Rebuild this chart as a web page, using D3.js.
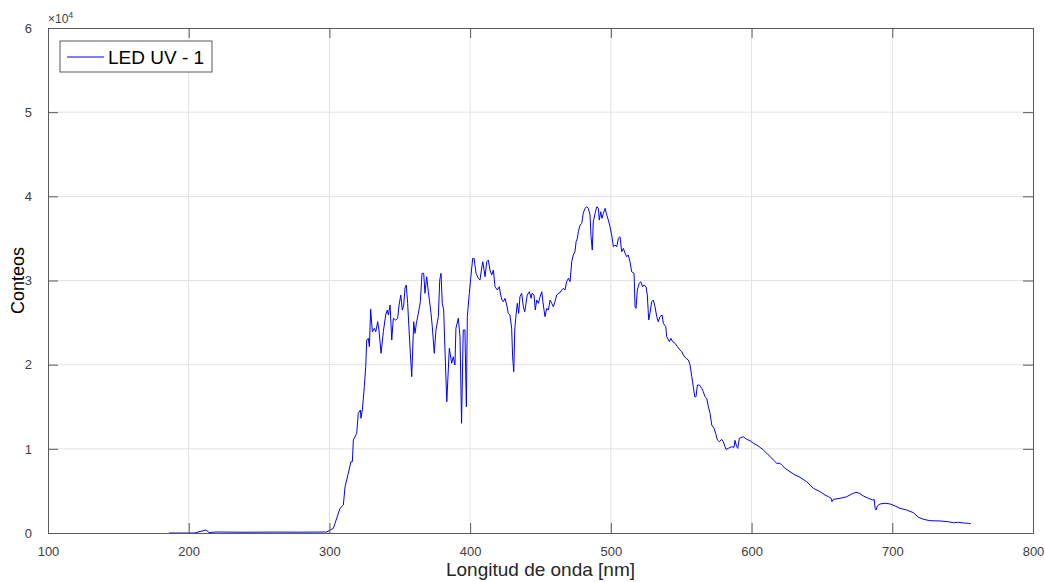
<!DOCTYPE html>
<html>
<head>
<meta charset="utf-8">
<script src="https://cdn.jsdelivr.net/npm/d3@7"></script>
<style>
  body { margin: 0; background: #fff; }
  svg text { font-family: "Liberation Sans", Arial, sans-serif; }
</style>
</head>
<body>
<div id="chart"></div>
<script>
// wavelength [nm] and counts
const wavelength = [
  186, 200, 204, 212.3, 214.4, 220, 240, 260, 280, 298,
  299.7, 302.8, 304.0, 307.5, 309.9, 311.1, 313.4, 315.3, 316.3, 317.0,
  319.4, 320.5, 322.0, 322.4, 323.4, 324.8, 325.8, 326.5, 327.6, 328.4,
  329.3, 330.5, 331.9, 332.9, 334.3, 335.2, 336.7, 338.3, 340.0, 341.1,
  341.9, 343.1, 344.3, 345.4, 347.1, 348.5, 349.5, 350.7, 351.8, 352.8,
  353.7, 354.6, 355.6, 356.6, 357.5, 358.5, 359.9, 360.8, 361.8, 363.2,
  364.6, 365.8, 367.0, 367.9, 369.1, 370.3, 372.2, 373.1, 374.5, 375.7,
  377.4, 378.4, 379.3, 380.2, 381.2, 382.1, 383.4, 385.2, 386.9, 388.0,
  389.2, 389.9, 391.6, 392.8, 393.9, 395.1, 396.3, 397.3, 398.0, 399.4,
  400.4, 401.8, 402.8, 404.2, 405.8, 407.0, 408.0, 409.0, 409.9, 410.6,
  411.8, 412.9, 414.1, 415.3, 416.5, 417.7, 419.3, 420.7, 421.7, 422.6,
  423.6, 424.8, 426.0, 427.1, 428.3, 429.5, 430.2, 431.0, 431.7, 432.6,
  433.5, 434.5, 435.4, 436.6, 437.8, 438.8, 439.7, 440.6, 442.1, 443.3,
  444.0, 445.4, 446.3, 447.3, 448.5, 449.7, 450.9, 452.0, 453.2, 454.4,
  455.6, 456.8, 458.0, 459.1, 460.3, 461.5, 462.7, 463.9, 465.1, 466.2,
  467.4, 468.6, 469.8, 471.0, 472.2, 473.3, 474.5, 475.3, 476.2, 476.9,
  478.1, 479.3, 480.4, 481.6, 482.9, 484.0, 485.2, 485.9, 486.8, 487.5,
  488.8, 490.0, 491.1, 491.8, 492.8, 493.7, 494.7, 495.9, 497.1, 498.2,
  499.4, 500.6, 501.8, 503.0, 504.2, 505.3, 506.5, 507.7, 508.9, 510.1,
  511.3, 512.4, 513.6, 514.8, 516.5, 517.2, 517.9, 518.8, 520.2, 521.2,
  522.6, 523.6, 525.0, 525.9, 526.9, 527.8, 529.0, 530.2, 531.4, 532.6,
  533.7, 534.9, 536.4, 537.3, 539.0, 539.7, 541.6, 542.6, 544.0, 545.6,
  547.3, 549.2, 550.4, 551.5, 553.4, 555.1, 556.3, 557.5, 558.6, 559.6,
  560.5, 561.5, 562.9, 564.6, 565.7, 566.9, 568.1, 569.3, 570.5, 571.7,
  573.3, 574.5, 575.7, 577.1, 578.8, 579.9, 581.8, 583.5, 585.9, 587.5,
  588.2, 589.4, 590.2, 591.3, 594.1, 596.5, 598.9, 601.3, 603.7, 606.0,
  608.4, 610.8, 613.1, 615.5, 617.9, 620.2, 621.4, 623.8, 627.3, 630.9,
  634.4, 639.2, 643.9, 648.7, 652.2, 654.6, 656.5, 657.2, 658.1, 662.9,
  667.6, 671.2, 674.2, 676.6, 679.4, 683.0, 686.1, 687.1, 687.8, 688.5,
  689.4, 691.3, 694.9, 698.4, 702.0, 705.5, 710.3, 715.0, 718.5, 722.1,
  726.8, 733.9, 739.8, 743.4, 747.0, 750.5, 754.1, 755.8
];
const counts = [
  0, 0, 0, 360, 60, 120, 90, 110, 100, 120,
  270, 560, 1150, 2930, 3330, 5500, 7090, 8470, 8470, 11050,
  11840, 14220, 14610, 13630, 14610, 17380, 19760, 22930, 23130, 22130,
  26580, 23910, 24320, 23910, 25100, 24120, 21350, 23910, 25900, 26490,
  25900, 27090, 22930, 25510, 25300, 25510, 27090, 28270, 26490, 27090,
  29070, 29460, 27290, 24120, 21350, 18570, 25100, 23720, 24910, 26100,
  27480, 30850, 30850, 28480, 30450, 28670, 26100, 24510, 21350, 24120,
  25700, 30060, 30850, 27290, 26490, 21740, 15600, 21940, 20160, 20940,
  19960, 24320, 25510, 23320, 13030, 24120, 24120, 15000, 25700, 28480,
  30260, 32630, 32630, 30850, 30260, 30060, 31240, 32230, 31240, 30450,
  32230, 32430, 31240, 30650, 31240, 29260, 28870, 29260, 28270, 27680,
  27480, 27880, 27090, 26100, 25900, 24320, 20940, 19160, 24120, 25900,
  27290, 26100, 28070, 28480, 26880, 26290, 27290, 28270, 28670, 27880,
  28480, 28270, 26490, 27680, 27290, 28070, 28670, 27090, 25700, 26690,
  26490, 27680, 27290, 26880, 27480, 28270, 28480, 28550, 28870, 29070,
  28870, 29860, 30260, 29860, 32230, 33030, 33420, 34610, 35010, 35790,
  36590, 36790, 37980, 38570, 38760, 38570, 37780, 35200, 33620, 36950,
  37980, 38760, 38570, 37180, 38170, 37390, 37980, 38570, 37780, 37180,
  36390, 35400, 34010, 34210, 34010, 35010, 35200, 33420, 33820, 33230,
  32820, 33030, 32230, 31040, 30850, 26880, 26690, 28870, 29660, 29860,
  29260, 29460, 29260, 28270, 25300, 26100, 27480, 27680, 26880, 25700,
  25100, 25700, 25900, 24910, 24510, 23320, 22730, 23130, 22730, 22540,
  22130, 21740, 21540, 21150, 20750, 20550, 19960, 18570, 17380, 16190,
  16190, 17580, 17580, 17190, 16790, 16190, 16000, 15000, 14220, 12830,
  12440, 11840, 11050, 10850, 11130, 10850, 9940, 10060, 10250, 10180,
  11010, 10250, 10060, 11250, 11440, 11130, 10970, 10660, 10450, 10180,
  9860, 9470, 9110, 8670, 8280, 8280, 8080, 7690, 7280, 6890,
  6620, 6090, 5310, 4910, 4510, 4310, 4120, 3720, 4000, 4120,
  4310, 4630, 4840, 4720, 4400, 4120, 3920, 4000, 2930, 2730,
  3210, 3450, 3530, 3450, 3210, 2930, 2730, 2410, 1870, 1630,
  1460, 1430, 1340, 1220, 1270, 1190, 1150, 1110
];
const xTicks = [100, 200, 300, 400, 500, 600, 700, 800];
const yTicks = [0, 1, 2, 3, 4, 5, 6];   // in units of 10^4
const seriesName = "LED UV - 1";

const width = 1045, height = 582;
const margin = { top: 28, right: 12, bottom: 49, left: 48 };
const plotW = width - margin.left - margin.right,
      plotH = height - margin.top - margin.bottom;

const axisColor = "#5a5a5a", textColor = "#404040", gridColor = "#e3e3e3";

let xScale = d3.scaleLinear().domain([100, 800]).range([0, plotW]);
let yScale = d3.scaleLinear().domain([0, 6]).range([plotH, 0]);

let svg = d3.select("#chart").append("svg")
  .attr("width", width)
  .attr("height", height);

let main = svg.append("g")
  .attr("transform", "translate(" + margin.left + "," + margin.top + ")");

// grid lines
main.append("g").selectAll("line.gx")
  .data(xTicks.slice(1, -1)).enter().append("line")
  .attr("x1", d => xScale(d)).attr("x2", d => xScale(d))
  .attr("y1", 0).attr("y2", plotH)
  .attr("stroke", gridColor).attr("stroke-width", 1);
main.append("g").selectAll("line.gy")
  .data(yTicks.slice(1, -1)).enter().append("line")
  .attr("x1", 0).attr("x2", plotW)
  .attr("y1", d => yScale(d)).attr("y2", d => yScale(d))
  .attr("stroke", gridColor).attr("stroke-width", 1);

// the spectrum
let line = d3.line()
  .x((d, i) => xScale(wavelength[i]))
  .y(d => yScale(d / 1e4));

main.append("path")
  .datum(counts)
  .attr("d", line)
  .attr("fill", "none")
  .attr("stroke", "#0000ff")
  .attr("stroke-width", 1);

// axes, ticks point inward like matlab, on all four sides
let tickLen = 10;
let xBottom = d3.axisBottom(xScale).tickValues(xTicks).tickSize(-tickLen).tickPadding(tickLen + 4);
let xTop = d3.axisTop(xScale).tickValues(xTicks).tickSize(-tickLen).tickFormat("");
let yLeft = d3.axisLeft(yScale).tickValues(yTicks).tickSize(-tickLen).tickPadding(tickLen + 6)
  .tickFormat(d3.format("d"));
let yRight = d3.axisRight(yScale).tickValues(yTicks).tickSize(-tickLen).tickFormat("");

function styleAxis(g) {
  g.select(".domain").attr("stroke", axisColor);
  g.selectAll(".tick line").attr("stroke", axisColor);
  g.selectAll(".tick text").attr("fill", textColor)
    .style("font-family", "'Liberation Sans', Arial, sans-serif")
    .style("font-size", "13px");
}

main.append("g").attr("transform", "translate(0," + plotH + ")").call(xBottom).call(styleAxis);
main.append("g").call(xTop).call(styleAxis);
main.append("g").call(yLeft).call(styleAxis);
main.append("g").attr("transform", "translate(" + plotW + ",0)").call(yRight).call(styleAxis);

// exponent label
let expo = main.append("text")
  .attr("x", 0).attr("y", -5)
  .attr("fill", textColor)
  .style("font-size", "12px");
expo.append("tspan").text("\u00d710");
expo.append("tspan").attr("dy", -5).style("font-size", "9px").text("4");

// axis titles
svg.append("text")
  .attr("x", margin.left + plotW / 2)
  .attr("y", height - 6)
  .attr("text-anchor", "middle")
  .attr("fill", "#262626")
  .style("font-size", "19px")
  .text("Longitud de onda [nm]");

svg.append("text")
  .attr("transform", "translate(24," + (margin.top + plotH / 2) + ") rotate(-90)")
  .attr("text-anchor", "middle")
  .attr("fill", "#000")
  .style("font-size", "18px")
  .text("Conteos");

// legend
let legend = main.append("g").attr("transform", "translate(12,13)");
legend.append("rect")
  .attr("width", 152).attr("height", 31)
  .attr("fill", "#fff").attr("stroke", axisColor).attr("stroke-width", 1);
legend.append("line")
  .attr("x1", 7).attr("x2", 44).attr("y1", 16).attr("y2", 16)
  .attr("stroke", "#0000ff").attr("stroke-width", 1);
legend.append("text")
  .attr("x", 48).attr("y", 22.5)
  .attr("fill", "#000")
  .style("font-size", "19px")
  .text(seriesName);
</script>
</body>
</html>
